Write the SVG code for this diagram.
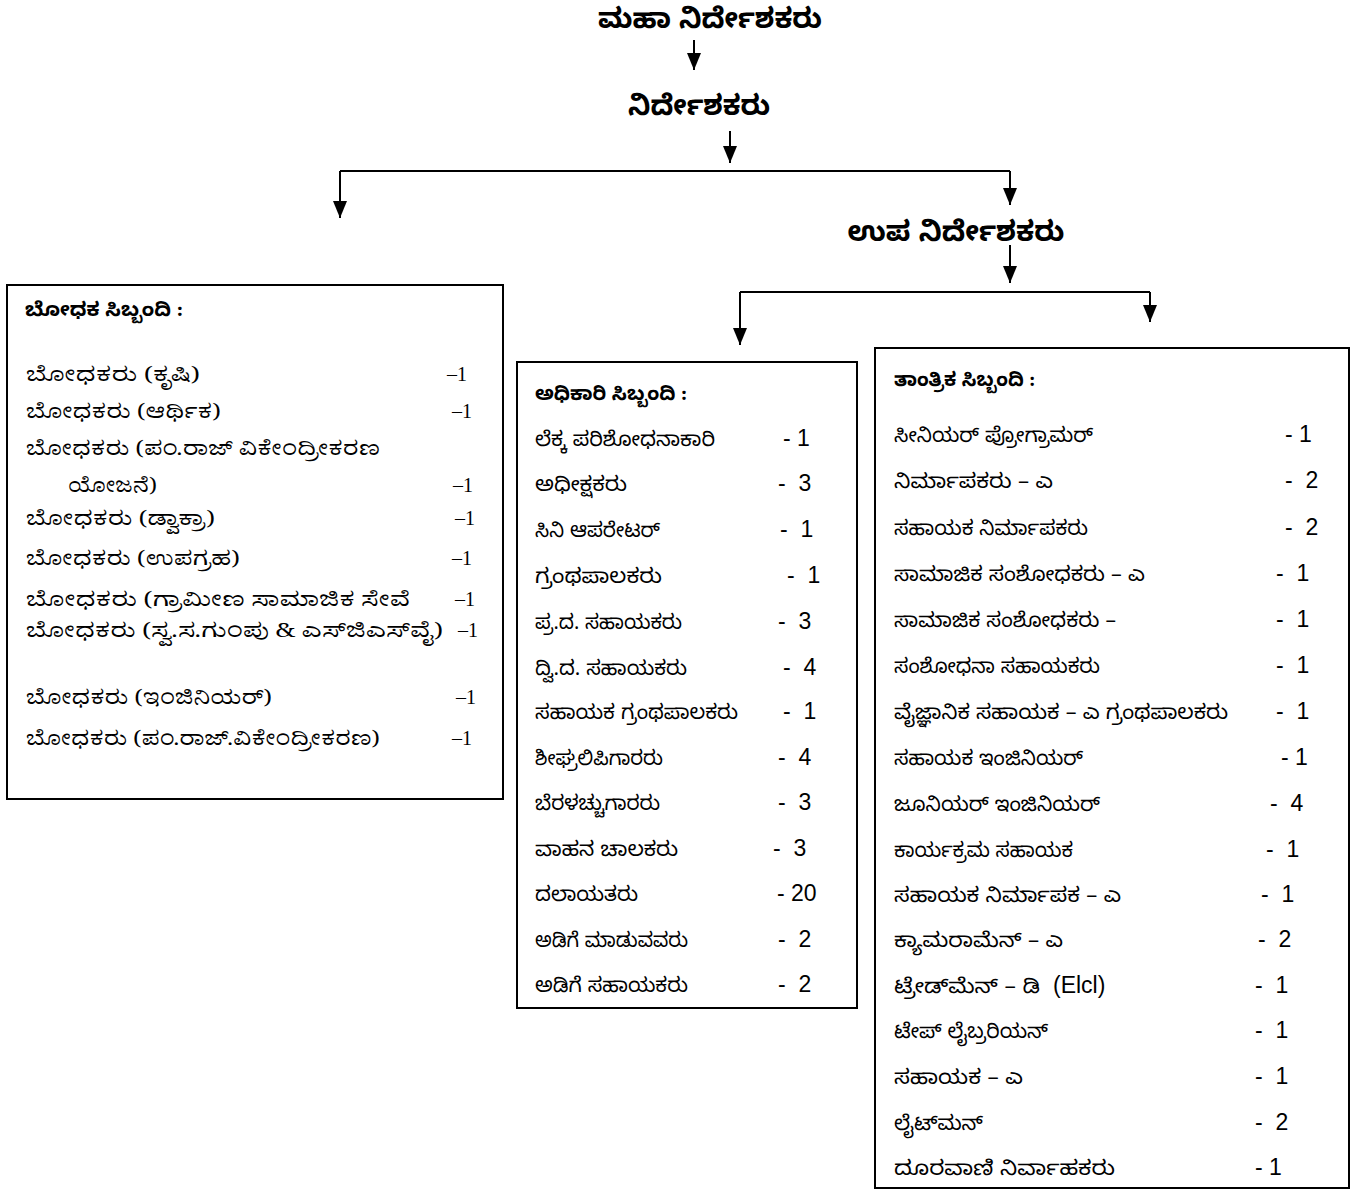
<svg xmlns="http://www.w3.org/2000/svg" width="1368" height="1200" viewBox="0 0 1368 1200">
<style>
.kn{font-family:"Noto Sans Kannada","Noto Sans","DejaVu Sans",sans-serif;font-size:20.5px;fill:#000}
.kb{font-family:"Noto Sans Kannada","Noto Sans","DejaVu Sans",sans-serif;font-weight:bold;fill:#000}
.ks{font-family:"Noto Serif Kannada","Noto Sans Kannada","Noto Sans",serif;font-size:20px;fill:#000}
.num{font-family:"Liberation Sans",Arial,sans-serif;font-size:23px;fill:#000}
.nums{font-family:"Liberation Serif","Times New Roman",serif;font-size:20px;fill:#000}
.box{fill:#fff;stroke:#000;stroke-width:2}
.con{fill:none;stroke:#000;stroke-width:2}
</style>
<defs>
<marker id="ah" markerUnits="userSpaceOnUse" markerWidth="17" markerHeight="14" refX="17" refY="7" orient="auto" viewBox="0 0 17 14">
<path d="M0,0 L17,7 L0,14 Z" fill="#000"/>
</marker>
</defs>
<rect width="1368" height="1200" fill="#fff"/>

<g id="connectors">
<line class="con" x1="694" y1="40" x2="694" y2="70" marker-end="url(#ah)"/>
<line class="con" x1="730" y1="131" x2="730" y2="163" marker-end="url(#ah)"/>
<path class="con" d="M340,171 H1010"/>
<line class="con" x1="340" y1="171" x2="340" y2="218" marker-end="url(#ah)"/>
<line class="con" x1="1010" y1="171" x2="1010" y2="205" marker-end="url(#ah)"/>
<line class="con" x1="1010" y1="245" x2="1010" y2="283" marker-end="url(#ah)"/>
<path class="con" d="M740,292 H1150"/>
<line class="con" x1="740" y1="292" x2="740" y2="345" marker-end="url(#ah)"/>
<line class="con" x1="1150" y1="292" x2="1150" y2="322" marker-end="url(#ah)"/>
</g>

<g id="maha-nirdeshakaru">
<text class="kb" x="710" y="28" font-size="28" text-anchor="middle" textLength="224" lengthAdjust="spacingAndGlyphs">ಮಹಾ ನಿರ್ದೇಶಕರು</text>
</g>
<g id="nirdeshakaru">
<text class="kb" x="699" y="115" font-size="28" text-anchor="middle" textLength="142" lengthAdjust="spacingAndGlyphs">ನಿರ್ದೇಶಕರು</text>
</g>
<g id="upa-nirdeshakaru">
<text class="kb" x="956" y="241" font-size="28" text-anchor="middle" textLength="217" lengthAdjust="spacingAndGlyphs">ಉಪ ನಿರ್ದೇಶಕರು</text>
</g>

<g id="bodhaka-sibbandi">
<rect class="box" x="7" y="285" width="496" height="514"/>
<text class="kb" x="25" y="316" font-size="19.5" textLength="158" lengthAdjust="spacingAndGlyphs">ಬೋಧಕ ಸಿಬ್ಬಂದಿ :</text>
<text class="ks" x="26" y="381" textLength="174" lengthAdjust="spacingAndGlyphs">ಬೋಧಕರು (ಕೃಷಿ)</text><text class="nums" x="447" y="381">–1</text>
<text class="ks" x="26" y="418" textLength="195" lengthAdjust="spacingAndGlyphs">ಬೋಧಕರು (ಆರ್ಥಿಕ)</text><text class="nums" x="452" y="418">–1</text>
<text class="ks" x="26" y="455" textLength="354" lengthAdjust="spacingAndGlyphs">ಬೋಧಕರು (ಪಂ.ರಾಜ್ ವಿಕೇಂದ್ರೀಕರಣ</text>
<text class="ks" x="68" y="492" textLength="89" lengthAdjust="spacingAndGlyphs">ಯೋಜನೆ)</text><text class="nums" x="453" y="492">–1</text>
<text class="ks" x="26" y="525" textLength="189" lengthAdjust="spacingAndGlyphs">ಬೋಧಕರು (ಡ್ವಾಕ್ರಾ)</text><text class="nums" x="455" y="525">–1</text>
<text class="ks" x="26" y="565" textLength="214" lengthAdjust="spacingAndGlyphs">ಬೋಧಕರು (ಉಪಗ್ರಹ)</text><text class="nums" x="452" y="565">–1</text>
<text class="ks" x="26" y="606" textLength="384" lengthAdjust="spacingAndGlyphs">ಬೋಧಕರು  (ಗ್ರಾಮೀಣ ಸಾಮಾಜಿಕ ಸೇವೆ</text><text class="nums" x="455" y="606">–1</text>
<text class="ks" x="26" y="637" textLength="417" lengthAdjust="spacingAndGlyphs">ಬೋಧಕರು (ಸ್ವ.ಸ.ಗುಂಪು &amp; ಎಸ್‌ಜಿಎಸ್‌ವೈ)</text><text class="nums" x="458" y="637">–1</text>
<text class="ks" x="26" y="704" textLength="246" lengthAdjust="spacingAndGlyphs">ಬೋಧಕರು (ಇಂಜಿನಿಯರ್)</text><text class="nums" x="456" y="704">–1</text>
<text class="ks" x="26" y="745" textLength="354" lengthAdjust="spacingAndGlyphs">ಬೋಧಕರು (ಪಂ.ರಾಜ್.ವಿಕೇಂದ್ರೀಕರಣ)</text><text class="nums" x="452" y="745">–1</text>
</g>

<g id="adhikari-sibbandi">
<rect class="box" x="517" y="362" width="340" height="646"/>
<text class="kb" x="535" y="400" font-size="19.5" textLength="152" lengthAdjust="spacingAndGlyphs">ಅಧಿಕಾರಿ ಸಿಬ್ಬಂದಿ :</text>
<text class="kn" x="535" y="446" textLength="180" lengthAdjust="spacingAndGlyphs">ಲೆಕ್ಕ ಪರಿಶೋಧನಾಕಾರಿ</text><text class="num" x="783" y="446">- 1</text>
<text class="kn" x="535" y="491" textLength="92" lengthAdjust="spacingAndGlyphs">ಅಧೀಕ್ಷಕರು</text><text class="num" x="778" y="491">-&#160; 3</text>
<text class="kn" x="535" y="537" textLength="125" lengthAdjust="spacingAndGlyphs">ಸಿನಿ ಆಪರೇಟರ್</text><text class="num" x="780" y="537">-&#160; 1</text>
<text class="kn" x="535" y="583" textLength="127" lengthAdjust="spacingAndGlyphs">ಗ್ರಂಥಪಾಲಕರು</text><text class="num" x="787" y="583">-&#160; 1</text>
<text class="kn" x="535" y="629" textLength="147" lengthAdjust="spacingAndGlyphs">ಪ್ರ.ದ. ಸಹಾಯಕರು</text><text class="num" x="778" y="629">-&#160; 3</text>
<text class="kn" x="535" y="675" textLength="152" lengthAdjust="spacingAndGlyphs">ದ್ವಿ.ದ. ಸಹಾಯಕರು</text><text class="num" x="783" y="675">-&#160; 4</text>
<text class="kn" x="535" y="719" textLength="203" lengthAdjust="spacingAndGlyphs">ಸಹಾಯಕ ಗ್ರಂಥಪಾಲಕರು</text><text class="num" x="783" y="719">-&#160; 1</text>
<text class="kn" x="535" y="765" textLength="128" lengthAdjust="spacingAndGlyphs">ಶೀಘ್ರಲಿಪಿಗಾರರು</text><text class="num" x="778" y="765">-&#160; 4</text>
<text class="kn" x="535" y="810" textLength="125" lengthAdjust="spacingAndGlyphs">ಬೆರಳಚ್ಚುಗಾರರು</text><text class="num" x="778" y="810">-&#160; 3</text>
<text class="kn" x="535" y="856" textLength="143" lengthAdjust="spacingAndGlyphs">ವಾಹನ ಚಾಲಕರು</text><text class="num" x="773" y="856">-&#160; 3</text>
<text class="kn" x="535" y="901" textLength="103" lengthAdjust="spacingAndGlyphs">ದಲಾಯತರು</text><text class="num" x="777" y="901">- 20</text>
<text class="kn" x="535" y="947" textLength="153" lengthAdjust="spacingAndGlyphs">ಅಡಿಗೆ ಮಾಡುವವರು</text><text class="num" x="778" y="947">-&#160; 2</text>
<text class="kn" x="535" y="992" textLength="153" lengthAdjust="spacingAndGlyphs">ಅಡಿಗೆ ಸಹಾಯಕರು</text><text class="num" x="778" y="992">-&#160; 2</text>
</g>

<g id="tantrika-sibbandi">
<rect class="box" x="875" y="348" width="474" height="840"/>
<text class="kb" x="894" y="386" font-size="19.5" textLength="141" lengthAdjust="spacingAndGlyphs">ತಾಂತ್ರಿಕ ಸಿಬ್ಬಂದಿ :</text>
<text class="kn" x="894" y="442" textLength="199" lengthAdjust="spacingAndGlyphs">ಸೀನಿಯರ್ ಪ್ರೋಗ್ರಾಮರ್</text><text class="num" x="1285" y="442">- 1</text>
<text class="kn" x="894" y="488" textLength="159" lengthAdjust="spacingAndGlyphs">ನಿರ್ಮಾಪಕರು – ಎ</text><text class="num" x="1285" y="488">-&#160; 2</text>
<text class="kn" x="894" y="535" textLength="194" lengthAdjust="spacingAndGlyphs">ಸಹಾಯಕ ನಿರ್ಮಾಪಕರು</text><text class="num" x="1285" y="535">-&#160; 2</text>
<text class="kn" x="894" y="581" textLength="251" lengthAdjust="spacingAndGlyphs">ಸಾಮಾಜಿಕ ಸಂಶೋಧಕರು – ಎ</text><text class="num" x="1276" y="581">-&#160; 1</text>
<text class="kn" x="894" y="627" textLength="222" lengthAdjust="spacingAndGlyphs">ಸಾಮಾಜಿಕ ಸಂಶೋಧಕರು –</text><text class="num" x="1276" y="627">-&#160; 1</text>
<text class="kn" x="894" y="673" textLength="206" lengthAdjust="spacingAndGlyphs">ಸಂಶೋಧನಾ ಸಹಾಯಕರು</text><text class="num" x="1276" y="673">-&#160; 1</text>
<text class="kn" x="894" y="719" textLength="334" lengthAdjust="spacingAndGlyphs">ವೈಜ್ಞಾನಿಕ ಸಹಾಯಕ – ಎ ಗ್ರಂಥಪಾಲಕರು</text><text class="num" x="1276" y="719">-&#160; 1</text>
<text class="kn" x="894" y="765" textLength="189" lengthAdjust="spacingAndGlyphs">ಸಹಾಯಕ ಇಂಜಿನಿಯರ್</text><text class="num" x="1281" y="765">- 1</text>
<text class="kn" x="894" y="811" textLength="206" lengthAdjust="spacingAndGlyphs">ಜೂನಿಯರ್ ಇಂಜಿನಿಯರ್</text><text class="num" x="1270" y="811">-&#160; 4</text>
<text class="kn" x="894" y="857" textLength="179" lengthAdjust="spacingAndGlyphs">ಕಾರ್ಯಕ್ರಮ ಸಹಾಯಕ</text><text class="num" x="1266" y="857">-&#160; 1</text>
<text class="kn" x="894" y="902" textLength="227" lengthAdjust="spacingAndGlyphs">ಸಹಾಯಕ ನಿರ್ಮಾಪಕ – ಎ</text><text class="num" x="1261" y="902">-&#160; 1</text>
<text class="kn" x="894" y="947" textLength="169" lengthAdjust="spacingAndGlyphs">ಕ್ಯಾಮರಾಮೆನ್ – ಎ</text><text class="num" x="1258" y="947">-&#160; 2</text>
<text class="kn" x="894" y="993"><tspan textLength="146" lengthAdjust="spacingAndGlyphs">ಟ್ರೇಡ್‌ಮೆನ್ – ಡಿ</tspan><tspan class="num" x="1053" font-size="24">(Elcl)</tspan></text><text class="num" x="1255" y="993">-&#160; 1</text>
<text class="kn" x="894" y="1038" textLength="154" lengthAdjust="spacingAndGlyphs">ಟೇಪ್ ಲೈಬ್ರರಿಯನ್</text><text class="num" x="1255" y="1038">-&#160; 1</text>
<text class="kn" x="894" y="1084" textLength="129" lengthAdjust="spacingAndGlyphs">ಸಹಾಯಕ – ಎ</text><text class="num" x="1255" y="1084">-&#160; 1</text>
<text class="kn" x="894" y="1130" textLength="89" lengthAdjust="spacingAndGlyphs">ಲೈಟ್‌ಮನ್</text><text class="num" x="1255" y="1130">-&#160; 2</text>
<text class="kn" x="894" y="1175" textLength="221" lengthAdjust="spacingAndGlyphs">ದೂರವಾಣಿ ನಿರ್ವಾಹಕರು</text><text class="num" x="1255" y="1175">- 1</text>
</g>
</svg>
